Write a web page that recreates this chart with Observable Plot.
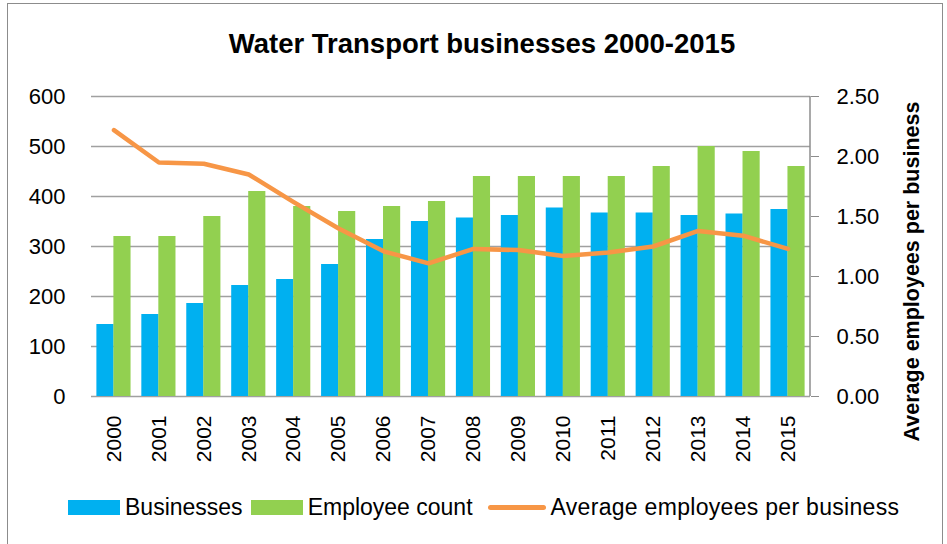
<!DOCTYPE html>
<html>
<head>
<meta charset="utf-8">
<script src="https://cdn.jsdelivr.net/npm/d3@7"></script>
<script src="https://cdn.jsdelivr.net/npm/@observablehq/plot@0.6"></script>
<style>
  html, body { margin: 0; padding: 0; background: #fff; }
  body { width: 947px; height: 544px; position: relative; overflow: hidden; font-family: "Liberation Sans", Arial, sans-serif; }
  #frame { position: absolute; left: 7px; top: 3px; width: 936px; height: 560px; border: 1.5px solid #8c8c8c; box-sizing: border-box; }
  #title { position: absolute; left: 0; width: 964px; top: 28px; text-align: center; font-size: 27.5px; font-weight: bold; color: #000; }
  #chart { position: absolute; left: 0; top: 70px; }
  #legend { position: absolute; left: 68px; top: 494px; display: flex; align-items: center; font-size: 23px; color: #000; white-space: nowrap; }
  .sw { display: inline-block; width: 52px; height: 15px; margin-right: 5px; }
  .ln { display: inline-block; width: 58px; height: 5px; border-radius: 3px; margin-right: 5px; }
  .item { display: flex; align-items: center; margin-right: 8px; }
  .item:nth-child(2) { margin-right: 15px; }
  .item:nth-child(3) { letter-spacing: 0.3px; }
</style>
</head>
<body>
<div id="frame"></div>
<div id="title">Water Transport businesses 2000-2015</div>
<div id="chart"></div>
<div id="legend"></div>
<script>
const years = ["2000","2001","2002","2003","2004","2005","2006","2007","2008","2009","2010","2011","2012","2013","2014","2015"];
const businesses = [144,164,186,222,234,264,314,350,357,362,377,367,367,362,365,374];
const employees = [320,320,360,410,380,370,380,390,440,440,440,440,460,500,490,460];
const avgPerBusiness = [2.22,1.95,1.94,1.85,1.62,1.40,1.21,1.11,1.23,1.22,1.17,1.20,1.25,1.38,1.34,1.23];
const leftTicks = [0,100,200,300,400,500,600];
const rightTicks = [0,0.5,1.0,1.5,2.0,2.5];
const rightMax = 2.5, leftMax = 600;
const k = leftMax / rightMax;

const seriesNames = ["Businesses","Employee count","Average employees per business"];
const colors = ["#00B0F0","#92D050","#F79646"];

const data = years.map((y, i) => ({year: y, businesses: businesses[i], employees: employees[i], avg: avgPerBusiness[i]}));

const font = "Liberation Sans, Arial, sans-serif";

const chart = Plot.plot({
  width: 947,
  height: 401,
  marginTop: 26,
  marginBottom: 75,
  marginLeft: 91,
  marginRight: 137,
  style: {fontFamily: font, fontSize: "22px", color: "#000", background: "transparent"},
  x: {type: "band", domain: years, paddingInner: 0.24, paddingOuter: 0.12, round: false, label: null},
  y: {domain: [0, leftMax], label: null},
  marks: [
    Plot.ruleY(leftTicks, {stroke: "#a0a0a0", strokeWidth: 1.5}),
    Plot.barY(data, {x: "year", y: "businesses", fill: colors[0], insetRight: 17}),
    Plot.barY(data, {x: "year", y: "employees", fill: colors[1], insetLeft: 17}),
    Plot.line(data, {x: "year", y: d => d.avg * k, stroke: colors[2], strokeWidth: 4.5, strokeLinejoin: "round", strokeLinecap: "round"}),
    Plot.axisY(leftTicks, {anchor: "left", tickSize: 0, tickPadding: 26, fontSize: 22, label: null}),
    Plot.axisY(rightTicks.map(t => t * k), {anchor: "right", tickSize: 8, tickPadding: 18, stroke: "#8c8c8c", fontSize: 22, tickFormat: d => (d / k).toFixed(2), label: null}),
    (index, scales, values, dims) => {
      const g = d3.create("svg:line")
        .attr("x1", dims.width - dims.marginRight).attr("x2", dims.width - dims.marginRight)
        .attr("y1", dims.marginTop).attr("y2", dims.height - dims.marginBottom)
        .attr("stroke", "#8c8c8c").attr("stroke-width", 1.5);
      return g.node();
    },
    Plot.axisX({anchor: "bottom", tickSize: 0, tickPadding: 19, tickRotate: -90, fontSize: 21, label: null}),
    Plot.text([seriesNames[2]], {frameAnchor: "right", textAnchor: "middle", rotate: -90, dx: 102, dy: 25, fontWeight: "bold", fontSize: 21.5, fill: "#000"})
  ]
});
document.getElementById("chart").appendChild(chart);

const legend = document.getElementById("legend");
seriesNames.forEach((name, i) => {
  const item = document.createElement("div");
  item.className = "item";
  const sw = document.createElement("span");
  sw.className = i < 2 ? "sw" : "ln";
  sw.style.background = colors[i];
  item.appendChild(sw);
  item.appendChild(document.createTextNode(name));
  legend.appendChild(item);
});
</script>
</body>
</html>
